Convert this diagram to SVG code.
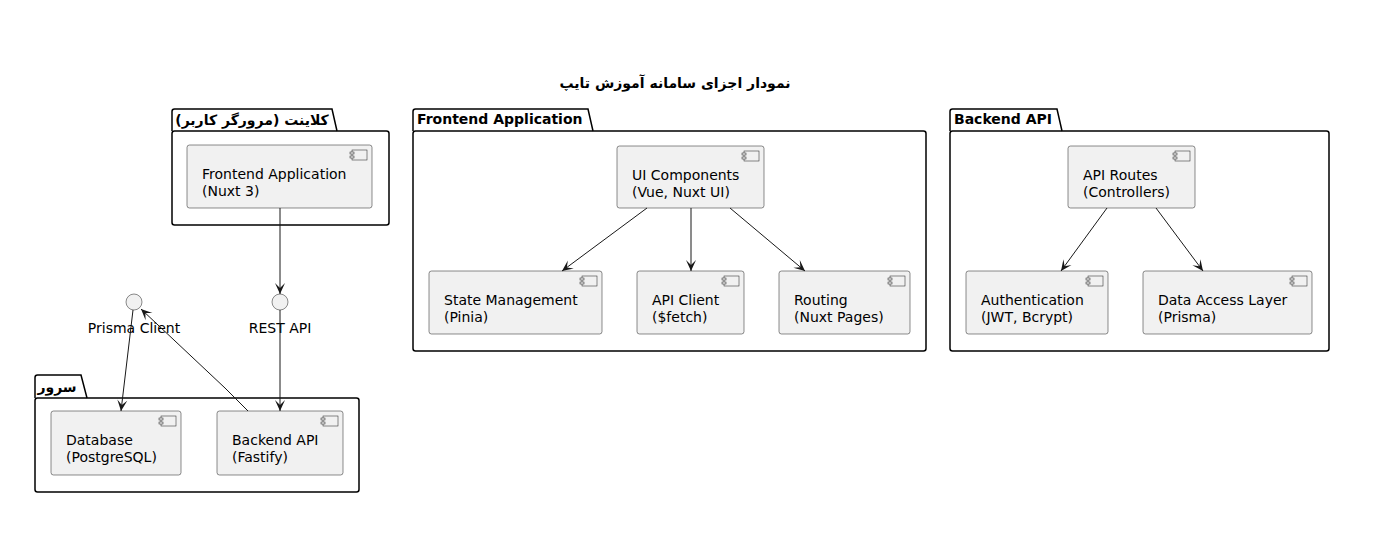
<svg xmlns="http://www.w3.org/2000/svg" width="1383" height="559" viewBox="0 0 1383 559">
<defs>
<style>
.pkg{fill:none;stroke:#000;stroke-width:1.5}
.comp{fill:#F1F1F1;stroke:#181818;stroke-width:0.5}
.icon{fill:#F1F1F1;stroke:#181818;stroke-width:0.5}
.t{font-family:"DejaVu Sans",sans-serif;font-size:14px;fill:#000}
.b{font-family:"DejaVu Sans",sans-serif;font-size:14px;font-weight:bold;fill:#000}
.edge{fill:none;stroke:#181818;stroke-width:1}
.iface{fill:#F1F1F1;stroke:#181818;stroke-width:0.5}
</style>
<marker id="arr" viewBox="-12 -6 13 12" refX="0" refY="0" markerWidth="13" markerHeight="12" orient="auto" markerUnits="userSpaceOnUse">
<path d="M0,0 L-11,-5 L-6,0 L-11,5 Z" fill="#181818"/>
</marker>
<symbol id="cicon" overflow="visible">
<rect x="2" y="0" width="15" height="10" class="icon"/>
<rect x="0" y="2" width="4" height="2" class="icon"/>
<rect x="0" y="6" width="4" height="2" class="icon"/>
</symbol>
</defs>
<rect width="1383" height="559" fill="#fff"/>
<text class="b" x="675" y="88" text-anchor="middle" direction="rtl">نمودار اجزای سامانه آموزش تایپ</text>

<g id="pkg-client">
<path class="pkg" d="M172,131 L172,111.5 Q172,109 174.5,109 L332,109 L337,131"/>
<rect class="pkg" x="172" y="131" width="217" height="94" rx="2.5"/>
<text class="b" x="252" y="125" text-anchor="middle" direction="rtl">کلاینت (مرورگر کاربر)</text>
</g>
<g id="pkg-frontend">
<path class="pkg" d="M413,131 L413,111.5 Q413,109 415.5,109 L588,109 L593,131"/>
<rect class="pkg" x="413" y="131" width="513" height="220" rx="2.5"/>
<text class="b" x="417" y="124">Frontend Application</text>
</g>
<g id="pkg-backend">
<path class="pkg" d="M950,131 L950,111.5 Q950,109 952.5,109 L1057,109 L1062,131"/>
<rect class="pkg" x="950" y="131" width="379" height="220" rx="2.5"/>
<text class="b" x="954" y="124">Backend API</text>
</g>
<g id="pkg-server">
<path class="pkg" d="M35,398 L35,377.5 Q35,375 37.5,375 L81,375 L87,398"/>
<rect class="pkg" x="35" y="398" width="324" height="94" rx="2.5"/>
<text class="b" x="57" y="392" text-anchor="middle" direction="rtl">سرور</text>
</g>

<g id="frontend-app">
<rect class="comp" x="187" y="145" width="185" height="63" rx="2.5"/>
<use href="#cicon" x="350" y="150"/>
<text class="t" x="202" y="179">Frontend Application</text>
<text class="t" x="202" y="196">(Nuxt 3)</text>
</g>
<g id="ui-components">
<rect class="comp" x="617" y="146" width="147" height="62" rx="2.5"/>
<use href="#cicon" x="742" y="151"/>
<text class="t" x="632" y="180">UI Components</text>
<text class="t" x="632" y="197">(Vue, Nuxt UI)</text>
</g>
<g id="state-management">
<rect class="comp" x="429" y="271" width="173" height="63" rx="2.5"/>
<use href="#cicon" x="580" y="276"/>
<text class="t" x="444" y="305">State Management</text>
<text class="t" x="444" y="322">(Pinia)</text>
</g>
<g id="api-client">
<rect class="comp" x="637" y="271" width="107" height="63" rx="2.5"/>
<use href="#cicon" x="722" y="276"/>
<text class="t" x="652" y="305">API Client</text>
<text class="t" x="652" y="322">($fetch)</text>
</g>
<g id="routing">
<rect class="comp" x="779" y="271" width="131" height="63" rx="2.5"/>
<use href="#cicon" x="888" y="276"/>
<text class="t" x="794" y="305">Routing</text>
<text class="t" x="794" y="322">(Nuxt Pages)</text>
</g>
<g id="api-routes">
<rect class="comp" x="1068" y="146" width="127" height="62" rx="2.5"/>
<use href="#cicon" x="1173" y="151"/>
<text class="t" x="1083" y="180">API Routes</text>
<text class="t" x="1083" y="197">(Controllers)</text>
</g>
<g id="authentication">
<rect class="comp" x="966" y="271" width="142" height="63" rx="2.5"/>
<use href="#cicon" x="1086" y="276"/>
<text class="t" x="981" y="305">Authentication</text>
<text class="t" x="981" y="322">(JWT, Bcrypt)</text>
</g>
<g id="data-access">
<rect class="comp" x="1143" y="271" width="169" height="63" rx="2.5"/>
<use href="#cicon" x="1290" y="276"/>
<text class="t" x="1158" y="305">Data Access Layer</text>
<text class="t" x="1158" y="322">(Prisma)</text>
</g>
<g id="database">
<rect class="comp" x="51" y="411" width="130" height="64" rx="2.5"/>
<use href="#cicon" x="159" y="416"/>
<text class="t" x="66" y="445">Database</text>
<text class="t" x="66" y="462">(PostgreSQL)</text>
</g>
<g id="backend-api">
<rect class="comp" x="217" y="411" width="126" height="64" rx="2.5"/>
<use href="#cicon" x="321" y="416"/>
<text class="t" x="232" y="445">Backend API</text>
<text class="t" x="232" y="462">(Fastify)</text>
</g>
<g id="prisma-client">
<circle class="iface" cx="134" cy="302" r="8"/>
<text class="t" x="134" y="333" text-anchor="middle">Prisma Client</text>
</g>
<g id="rest-api">
<circle class="iface" cx="280" cy="302" r="8"/>
<text class="t" x="280" y="333" text-anchor="middle">REST API</text>
</g>

<g id="connectors">
<path class="edge" d="M280,208 L280,294" marker-end="url(#arr)"/>
<path class="edge" d="M280,310 L280,411" marker-end="url(#arr)"/>
<path class="edge" d="M133,310 L121,411" marker-end="url(#arr)"/>
<path class="edge" d="M248,411 L225,388 L141,309" marker-end="url(#arr)"/>
<path class="edge" d="M647,208 L562,271" marker-end="url(#arr)"/>
<path class="edge" d="M691,208 L691,271" marker-end="url(#arr)"/>
<path class="edge" d="M730,208 L805,271" marker-end="url(#arr)"/>
<path class="edge" d="M1107,208 L1061,271" marker-end="url(#arr)"/>
<path class="edge" d="M1156,208 L1203,271" marker-end="url(#arr)"/>
</g>
</svg>
